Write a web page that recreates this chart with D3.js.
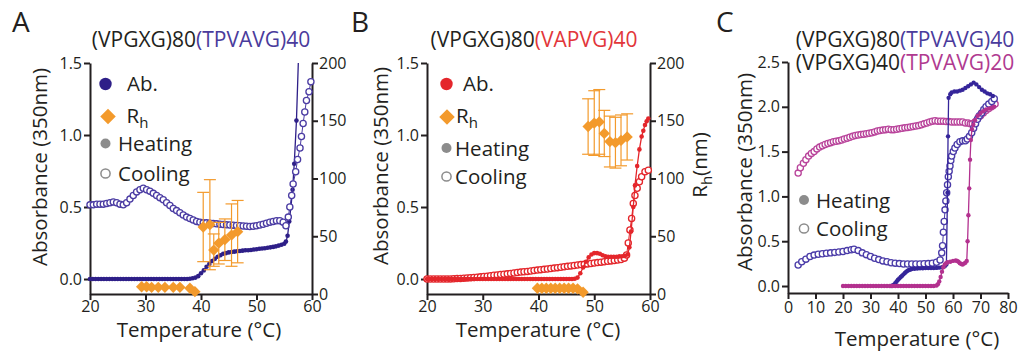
<!DOCTYPE html>
<html>
<head>
<meta charset="utf-8">
<script src="https://cdn.jsdelivr.net/npm/d3@7"></script>
<style>
  body { margin: 0; background: #fff; }
  svg text { font-family: "Open Sans", sans-serif; fill: #231f20; }
</style>
</head>
<body>
<svg id="fig" width="1024" height="352"></svg>
<script>
// ---- data: [temperature °C, absorbance] or [T, Rh nm, error] ----
const absTicksAB = [0, 0.5, 1.0, 1.5];
const absTicksC = [0, 0.5, 1.0, 1.5, 2.0, 2.5];
const rhTicks = [0, 50, 100, 150, 200];
const tempTicksAB = [20, 30, 40, 50, 60];
const tempTicksC = [0, 10, 20, 30, 40, 50, 60, 70, 80];

// panel A  (VPGXG)80(TPVAVG)40
const aHeating = [
  [20,0],[20.5,0],[21,0],[21.5,0],[22,0],[22.5,0],[23,0],[23.5,0],[24,0],[24.5,0],
  [25,0],[25.5,0],[26,0],[26.5,0],[27,0],[27.5,0],[28,0],[28.5,0],[29,0],[29.5,0],
  [30,0],[30.5,0],[31,0],[31.5,0],[32,0],[32.5,0],[33,0],[33.5,0],[34,0],[34.5,0],
  [35,0],[35.5,0],[36,0],[36.5,0],[37,0],[37.5,0],[38,0.002],[38.5,0.005],
  [39,0.01],[39.5,0.02],[40,0.04],[40.5,0.06],[41,0.085],[41.5,0.105],[42,0.125],
  [42.5,0.14],[43,0.155],[43.5,0.165],[44,0.175],[44.5,0.18],[45,0.185],[45.5,0.188],
  [46,0.19],[46.5,0.193],[47,0.195],[47.5,0.197],[48,0.2],[48.5,0.2],[49,0.202],
  [49.5,0.205],[50,0.207],[50.5,0.21],[51,0.212],[51.5,0.214],[52,0.217],[52.5,0.22],
  [53,0.223],[53.5,0.227],[54,0.232],[54.5,0.238],[55,0.245],[55.3,0.26],[55.6,0.3],
  [55.9,0.4],[56.2,0.5],[56.5,0.62],[56.8,0.8],[57.2,1.1],[57.7,1.7]
];
const aCooling = [
  [20,0.515],[20.6,0.515],[21.2,0.52],[21.8,0.52],[22.4,0.52],[23,0.525],[23.6,0.53],
  [24.2,0.535],[24.8,0.53],[25.4,0.52],[26,0.515],[26.6,0.53],[27.2,0.555],[27.8,0.58],
  [28.4,0.605],[29,0.62],[29.6,0.63],[30.2,0.62],[30.8,0.61],[31.4,0.595],[32,0.58],
  [32.6,0.565],[33.2,0.55],[33.8,0.53],[34.4,0.51],[35,0.49],[35.6,0.475],[36.2,0.46],
  [36.8,0.445],[37.4,0.43],[38,0.42],[38.6,0.41],[39.2,0.4],[39.8,0.395],[40.4,0.39],
  [41,0.39],[41.6,0.387],[42.2,0.385],[42.8,0.383],[43.4,0.38],[44,0.378],[44.6,0.376],
  [45.2,0.375],[45.8,0.374],[46.4,0.372],[47,0.37],[47.6,0.368],[48.2,0.366],[48.8,0.365],
  [49.4,0.366],[50,0.37],[50.6,0.375],[51.2,0.38],[51.8,0.387],[52.4,0.395],[53,0.4],
  [53.6,0.405],[54.2,0.405],[54.8,0.395],[55.3,0.37],[55.73,0.43],[56,0.5],[56.34,0.58],
  [56.6,0.66],[57.06,0.745],[57.4,0.83],[57.84,0.91],[58.1,0.99],[58.4,1.08],[58.7,1.16],
  [59,1.24],[59.46,1.3],[59.8,1.37]
];
const aRhLow = [[29.3,6.3],[30.2,6.3],[31.1,5.8],[32.3,5.8],[33.5,5.8],[35,5.8],[36.2,5.8],[38,5],[38.9,2]];
const aRhHigh = [[40.4,58,30],[41.6,60,39],[42.3,38,14],[43.2,44,18],[44.3,47,18],[45.5,51,27],[46.6,54,27]];

// panel B  (VPGXG)80(VAPVG)40
const bHeating = [
  [20,0],[20.5,0],[21,0],[21.5,0],[22,0],[22.5,0],[23,0],[23.5,0],[24,0],[24.5,0],
  [25,0],[25.5,0],[26,0],[26.5,0],[27,0],[27.5,0],[28,0],[28.5,0],[29,0],[29.5,0],
  [30,0],[30.5,0],[31,0],[31.5,0],[32,0],[32.5,0],[33,0],[33.5,0],[34,0],[34.5,0],
  [35,0],[35.5,0],[36,0],[36.5,0],[37,0],[37.5,0],[38,0],[38.5,0],[39,0],[39.5,0],
  [40,0],[40.5,0],[41,0],[41.5,0],[42,0],[42.5,0],[43,0],[43.5,0],[44,0],[44.5,0],
  [45,0],[45.5,0],[46,0],[46.5,0.002],[47,0.01],[47.5,0.04],[48,0.08],[48.5,0.12],
  [49,0.15],[49.5,0.17],[50,0.18],[50.5,0.18],[51,0.175],[51.5,0.165],[52,0.158],
  [52.5,0.155],[53,0.155],[53.5,0.155],[54,0.155],[54.5,0.157],[55,0.158],[55.5,0.162],
  [56,0.17],[56.3,0.22],[56.6,0.33],[57,0.5],[57.3,0.65],[57.7,0.785],[58.1,0.9],
  [58.5,0.99],[58.8,1.03],[59.1,1.07],[59.4,1.095],[59.7,1.115]
];
const bCooling = [
  [20,0],[20.6,0],[21.2,0],[21.8,0],[22.4,0],[23,0],[23.6,0],[24.2,0.001],[24.8,0.002],
  [25.4,0.003],[26,0.004],[26.6,0.005],[27.2,0.007],[27.8,0.009],[28.4,0.011],[29,0.013],
  [29.6,0.015],[30.2,0.017],[30.8,0.02],[31.4,0.023],[32,0.026],[32.6,0.028],[33.2,0.031],
  [33.8,0.034],[34.4,0.036],[35,0.039],[35.6,0.042],[36.2,0.045],[36.8,0.048],[37.4,0.05],
  [38,0.053],[38.6,0.056],[39.2,0.059],[39.8,0.062],[40.4,0.065],[41,0.067],[41.6,0.07],
  [42.2,0.073],[42.8,0.076],[43.4,0.079],[44,0.082],[44.6,0.085],[45.2,0.088],[45.8,0.091],
  [46.4,0.094],[47,0.097],[47.6,0.1],[48.2,0.102],[48.8,0.105],[49.4,0.108],[50,0.111],
  [50.6,0.114],[51.2,0.117],[51.8,0.12],[52.4,0.123],[53,0.126],[53.6,0.129],[54.2,0.132],
  [54.8,0.136],[55.4,0.145],[55.8,0.167],[56.1,0.25],[56.4,0.34],[56.7,0.42],[57,0.525],
  [57.3,0.58],[57.7,0.63],[58.1,0.675],[58.5,0.71],[59.1,0.745],[59.7,0.755]
];
const bRhLow = [[39.8,5],[40.6,5],[41.4,5],[42.2,5],[43,5],[43.8,5],[44.6,5],[45.4,5],[46.2,5],[47,4.5],[48,1.5]];
const bRhHigh = [[48.9,145,24],[50,148,28],[50.9,149,28],[51.8,139,20],[52.8,132,22],[53.8,131,22],[54.8,133,22],[55.9,136,20]];

// panel C  (VPGXG)80(TPVAVG)40 vs (VPGXG)40(TPVAVG)20
const c80Heating = [
  [37.5,0],[38,0.005],[38.5,0.015],[39,0.03],[39.5,0.05],[40,0.07],[40.5,0.085],[41,0.1],
  [41.5,0.115],[42,0.13],[42.5,0.145],[43,0.16],[43.5,0.17],[44,0.18],[44.5,0.185],
  [45,0.19],[46,0.193],[47,0.195],[48,0.197],[49,0.198],[50,0.2],[51,0.2],[52,0.2],
  [53,0.2],[54,0.202],[55,0.205],[56,0.21],[57,0.22],[57.6,0.24],[58,1.04],[58.2,1.67],
  [58.4,2.1],[59,2.14],[59.5,2.16],[60.5,2.17],[61.5,2.17],[62.5,2.18],[63.5,2.19],
  [64.5,2.21],[65.5,2.23],[66.5,2.25],[67.5,2.27],[68.5,2.25],[69.5,2.22],[70.5,2.19],
  [71.5,2.17],[72.5,2.15],[73.5,2.14],[74.5,2.12]
];
const c80Cooling = [
  [3.7,0.235],[5,0.27],[6.5,0.3],[8,0.33],[9.5,0.345],[11,0.355],[12.5,0.36],[14,0.365],
  [15.5,0.37],[17,0.375],[18.5,0.38],[20,0.385],[21.5,0.395],[23,0.405],[24,0.41],
  [25.5,0.395],[27,0.37],[28.5,0.35],[30,0.33],[31.5,0.31],[33,0.295],[34.5,0.28],
  [36,0.27],[37.5,0.26],[39,0.255],[40.5,0.25],[42,0.245],[43.5,0.245],[45,0.245],
  [46.5,0.245],[48,0.245],[49.5,0.248],[51,0.25],[52.5,0.255],[54,0.265],[55.3,0.29],
  [55.9,0.37],[56.2,0.45],[56.5,0.6],[56.8,0.72],[57.1,0.85],[57.4,0.95],[57.7,1.04],
  [58,1.13],[58.3,1.22],[58.6,1.28],[58.9,1.34],[59.2,1.4],[59.5,1.45],[60.1,1.5],
  [60.7,1.54],[61.5,1.58],[62.5,1.61],[63.5,1.62],[64.5,1.62],[65.2,1.64],[66,1.67],
  [66.8,1.71],[67.5,1.76],[68.2,1.81],[68.9,1.86],[69.6,1.9],[70.4,1.93],[71.2,1.97],
  [72,2],[73,2.03],[74.1,2.06],[75,2.09]
];
const c40Heating = [
  [20,0],[21,0],[22,0],[23,0],[24,0],[25,0],[26,0],[27,0],[28,0],[29,0],[30,0],[31,0],
  [32,0],[33,0],[34,0],[35,0],[36,0],[37,0],[38,0],[39,0],[40,0],[41,0],[42,0],[43,0],
  [44,0],[45,0],[46,0],[47,0],[48,0],[49,0],[50,0],[51,0],[52,0],[53,0],[54,0.005],
  [54.5,0.02],[55,0.05],[55.5,0.1],[56,0.16],[56.5,0.21],[57,0.24],[57.5,0.255],
  [58,0.265],[59,0.27],[60,0.28],[61,0.285],[61.5,0.28],[62,0.27],[62.5,0.255],[63,0.245],
  [63.5,0.24],[64,0.25],[64.5,0.26],[65,0.28],[65.3,0.5],[65.6,0.79],[65.9,1.09],
  [66.2,1.41],[66.5,1.63],[66.9,1.75],[67.4,1.8],[68,1.85],[69,1.9],[70,1.93],[71,1.95],
  [72,1.97],[73,1.98],[74,1.99],[75,2]
];
const c40Cooling = [
  [3.7,1.26],[4.5,1.32],[5.6,1.37],[6.5,1.41],[7.5,1.45],[8.5,1.48],[9.5,1.5],[10.5,1.53],
  [11.5,1.55],[12.5,1.565],[13.5,1.58],[14.5,1.59],[15.5,1.6],[16.5,1.61],[17.5,1.615],
  [18.5,1.62],[19.5,1.63],[20.5,1.64],[21.5,1.65],[22.5,1.66],[23.5,1.67],[24.5,1.68],
  [25.5,1.685],[26.5,1.69],[27.5,1.695],[28.5,1.7],[29.5,1.705],[30.5,1.71],[31.5,1.72],
  [32.5,1.73],[33.5,1.735],[34.5,1.74],[35.5,1.745],[36.5,1.75],[37.5,1.745],[38.5,1.745],
  [39.5,1.75],[40.5,1.755],[41.5,1.76],[42.5,1.765],[43.5,1.77],[44.5,1.775],[45.5,1.78],
  [46.5,1.785],[47.5,1.79],[48.5,1.8],[49.5,1.81],[50.5,1.82],[51.5,1.83],[52.5,1.84],
  [53.5,1.845],[54.5,1.84],[55.5,1.84],[56.5,1.84],[57.5,1.835],[58.5,1.835],[59.5,1.83],
  [60.5,1.83],[61.5,1.83],[62.5,1.83],[63.5,1.83],[64.5,1.82],[65.5,1.82],[66.3,1.81],
  [67,1.81],[68,1.83],[69.2,1.88],[70,1.9],[71,1.93],[72,1.96],[73,1.98],[74,2],[75.3,2.03]
];

// ---- colours ----
const ink = "#231f20";
const blueA = "#2e1f88", blueCool = "#4b3ca3";
const red = "#e4262b";
const orange = "#f39a2c";
const blueC = "#35259a", blueCCool = "#4a3ba8";
const magenta = "#b3318f", magentaCool = "#b9449b";
const grey = "#8c8c8c";

const svg = d3.select("#fig");

function styleAxis(g) {
  g.attr("font-family", "Open Sans").attr("font-size", 16);
  g.select(".domain").attr("stroke", ink).attr("stroke-width", 2);
  g.selectAll(".tick line").attr("stroke", ink).attr("stroke-width", 2);
  g.selectAll(".tick text").attr("fill", ink);
}

function heating(g, data, x, y, color, r) {
  g.append("path").datum(data)
    .attr("d", d3.line().x(d => x(d[0])).y(d => y(d[1])))
    .attr("fill", "none").attr("stroke", color).attr("stroke-width", 1.3);
  g.append("g").selectAll("circle").data(data).join("circle")
    .attr("cx", d => x(d[0])).attr("cy", d => y(d[1]))
    .attr("r", r).attr("fill", color);
}

function cooling(g, data, x, y, color) {
  g.append("path").datum(data)
    .attr("d", d3.line().x(d => x(d[0])).y(d => y(d[1])))
    .attr("fill", "none").attr("stroke", color).attr("stroke-width", 1);
  g.append("g").selectAll("circle").data(data).join("circle")
    .attr("cx", d => x(d[0])).attr("cy", d => y(d[1]))
    .attr("r", 3.1).attr("fill", "#fff").attr("stroke", color).attr("stroke-width", 1.3);
}

const diamond = d3.symbol().type(d3.symbolSquare).size(64);
function radius(g, data, x, y) {
  const withErr = data.filter(d => d[2]);
  const eb = g.append("g").attr("stroke", orange).attr("stroke-width", 1.2);
  eb.selectAll(".v").data(withErr).join("line")
    .attr("x1", d => x(d[0])).attr("x2", d => x(d[0]))
    .attr("y1", d => y(d[1] - d[2])).attr("y2", d => y(d[1] + d[2]));
  [1, -1].forEach(s => {
    eb.selectAll(".c" + s).data(withErr).join("line")
      .attr("x1", d => x(d[0]) - 6).attr("x2", d => x(d[0]) + 6)
      .attr("y1", d => y(d[1] + s * d[2])).attr("y2", d => y(d[1] + s * d[2]));
  });
  g.append("g").selectAll("path").data(data).join("path")
    .attr("d", diamond)
    .attr("transform", d => `translate(${x(d[0])},${y(d[1])}) rotate(45)`)
    .attr("fill", orange);
}

function title(x, y, parts, anchor) {
  const t = svg.append("text").attr("x", x).attr("y", y)
    .attr("font-size", 21).attr("text-anchor", anchor || "middle");
  parts.forEach(p => t.append("tspan").attr("fill", p[1]).style("fill", p[1]).text(p[0]));
}

function yLabel(x, y, txt) {
  svg.append("text").attr("transform", `translate(${x},${y}) rotate(-90)`)
    .attr("text-anchor", "middle").attr("font-size", 20.5).text(txt);
}

function xLabel(x, y) {
  svg.append("text").attr("x", x).attr("y", y).attr("text-anchor", "middle")
    .attr("font-size", 20.5).text("Temperature (°C)");
}

function legend(cfg) {
  const g = svg.append("g");
  const fs = 20.5;
  if (cfg.ab) {
    g.append("circle").attr("cx", cfg.ab.cx).attr("cy", cfg.ab.cy).attr("r", 6.2).attr("fill", cfg.ab.color);
    g.append("text").attr("x", cfg.ab.tx).attr("y", cfg.ab.cy + 7).attr("font-size", fs).text("Ab.");
  }
  if (cfg.rh) {
    g.append("path").attr("d", d3.symbol().type(d3.symbolSquare).size(120))
      .attr("transform", `translate(${cfg.rh.cx},${cfg.rh.cy}) rotate(45)`).attr("fill", orange);
    const t = g.append("text").attr("x", cfg.rh.tx).attr("y", cfg.rh.cy + 6).attr("font-size", fs);
    t.append("tspan").text("R");
    t.append("tspan").attr("font-size", 15).attr("dy", 5).text("h");
  }
  g.append("circle").attr("cx", cfg.heat.cx).attr("cy", cfg.heat.cy).attr("r", 5).attr("fill", grey);
  g.append("text").attr("x", cfg.heat.tx).attr("y", cfg.heat.cy + 7.5).attr("font-size", fs).text("Heating");
  g.append("circle").attr("cx", cfg.cool.cx).attr("cy", cfg.cool.cy).attr("r", 4.6)
    .attr("fill", "#fff").attr("stroke", grey).attr("stroke-width", 1.5);
  g.append("text").attr("x", cfg.cool.tx).attr("y", cfg.cool.cy + 7.5).attr("font-size", fs).text("Cooling");
}

function clipFor(id, x0, x1, y0, y1) {
  svg.append("clipPath").attr("id", id).append("rect")
    .attr("x", x0).attr("y", y0).attr("width", x1 - x0).attr("height", y1 - y0);
  return svg.append("g").attr("clip-path", `url(#${id})`);
}

// ---------- panel A ----------
{
  const x = d3.scaleLinear().domain([20, 60]).range([90, 312]);
  const y = d3.scaleLinear().domain([-0.104, 1.5]).range([294, 63]);
  const yr = d3.scaleLinear().domain([0, 200]).range([294, 63]);
  svg.append("g").attr("transform", "translate(0,294)")
    .call(d3.axisBottom(x).tickValues(tempTicksAB).tickSize(6).tickSizeOuter(0).tickPadding(1)).call(styleAxis);
  svg.append("g").attr("transform", "translate(90,0)")
    .call(d3.axisLeft(y).tickValues(absTicksAB).tickFormat(d3.format(".1f")).tickSize(6).tickSizeOuter(0).tickPadding(2)).call(styleAxis);
  svg.append("g").attr("transform", "translate(312,0)")
    .call(d3.axisRight(yr).tickValues(rhTicks).tickSize(6).tickSizeOuter(0).tickPadding(1)).call(styleAxis);
  const p = clipFor("clipA", 84, 320, 63, 300);
  heating(p, aHeating, x, y, blueA, 2.3);
  cooling(p, aCooling, x, y, blueCool);
  radius(p, aRhLow, x, yr);
  radius(p, aRhHigh, x, yr);
  legend({
    ab: { cx: 105.5, cy: 84, tx: 127, color: blueA },
    rh: { cx: 108, cy: 116.5, tx: 126.5 },
    heat: { cx: 105.5, cy: 143.5, tx: 118 },
    cool: { cx: 105.5, cy: 173.5, tx: 118 }
  });
  title(201, 47, [["(VPGXG)80", ink], ["(TPVAVG)40", "#4a3b9c"]]);
  svg.append("text").attr("x", 12).attr("y", 32).attr("font-size", 28).text("A");
  yLabel(47, 167, "Absorbance (350nm)");
  xLabel(199, 337);
}

// ---------- panel B ----------
{
  const x = d3.scaleLinear().domain([20, 60]).range([427, 650]);
  const y = d3.scaleLinear().domain([-0.104, 1.5]).range([294, 63]);
  const yr = d3.scaleLinear().domain([0, 200]).range([294, 63]);
  svg.append("g").attr("transform", "translate(0,294)")
    .call(d3.axisBottom(x).tickValues(tempTicksAB).tickSize(6).tickSizeOuter(0).tickPadding(1)).call(styleAxis);
  svg.append("g").attr("transform", "translate(427,0)")
    .call(d3.axisLeft(y).tickValues(absTicksAB).tickFormat(d3.format(".1f")).tickSize(6).tickSizeOuter(0).tickPadding(2)).call(styleAxis);
  svg.append("g").attr("transform", "translate(650,0)")
    .call(d3.axisRight(yr).tickValues(rhTicks).tickSize(6).tickSizeOuter(0).tickPadding(1)).call(styleAxis);
  const p = clipFor("clipB", 421, 658, 63, 300);
  cooling(p, bCooling, x, y, red);
  heating(p, bHeating, x, y, red, 2.3);
  radius(p, bRhLow, x, yr);
  radius(p, bRhHigh, x, yr);
  legend({
    ab: { cx: 446.5, cy: 84, tx: 463, color: red },
    rh: { cx: 447, cy: 117, tx: 456 },
    heat: { cx: 446.5, cy: 148, tx: 455 },
    cool: { cx: 446.5, cy: 176.5, tx: 455 }
  });
  title(534, 47, [["(VPGXG)80", ink], ["(VAPVG)40", "#e2363a"]]);
  svg.append("text").attr("x", 351).attr("y", 32).attr("font-size", 28).text("B");
  yLabel(388, 166, "Absorbance (350nm)");
  xLabel(538, 337);
  const rl = svg.append("text").attr("transform", "translate(707,165) rotate(-90)")
    .attr("text-anchor", "middle").attr("font-size", 20.5);
  rl.append("tspan").text("R");
  rl.append("tspan").attr("font-size", 15).attr("dy", 5).text("h");
  rl.append("tspan").attr("dy", -5).text("(nm)");
}

// ---------- panel C ----------
{
  const x = d3.scaleLinear().domain([0, 80]).range([788, 1008]);
  const y = d3.scaleLinear().domain([-0.078, 2.5]).range([293, 62]);
  svg.append("g").attr("transform", "translate(0,293)")
    .call(d3.axisBottom(x).tickValues(tempTicksC).tickSize(6).tickSizeOuter(0).tickPadding(3)).call(styleAxis);
  svg.append("g").attr("transform", "translate(788,0)")
    .call(d3.axisLeft(y).tickValues(absTicksC).tickFormat(d3.format(".1f")).tickSize(6).tickSizeOuter(0).tickPadding(2)).call(styleAxis);
  const p = svg.append("g");
  cooling(p, c40Cooling, x, y, magentaCool);
  cooling(p, c80Cooling, x, y, blueCCool);
  heating(p, c80Heating, x, y, blueC, 2.2);
  heating(p, c40Heating, x, y, magenta, 2.2);
  legend({
    heat: { cx: 804, cy: 200, tx: 816 },
    cool: { cx: 804, cy: 228.5, tx: 816 }
  });
  title(905, 47, [["(VPGXG)80", ink], ["(TPVAVG)40", "#4a3b9c"]]);
  title(905, 70, [["(VPGXG)40", ink], ["(TPVAVG)20", "#b03a90"]]);
  svg.append("text").attr("x", 716).attr("y", 32).attr("font-size", 28).text("C");
  yLabel(752, 172, "Absorbance (350nm)");
  xLabel(917, 346);
}
</script>
</body>
</html>
